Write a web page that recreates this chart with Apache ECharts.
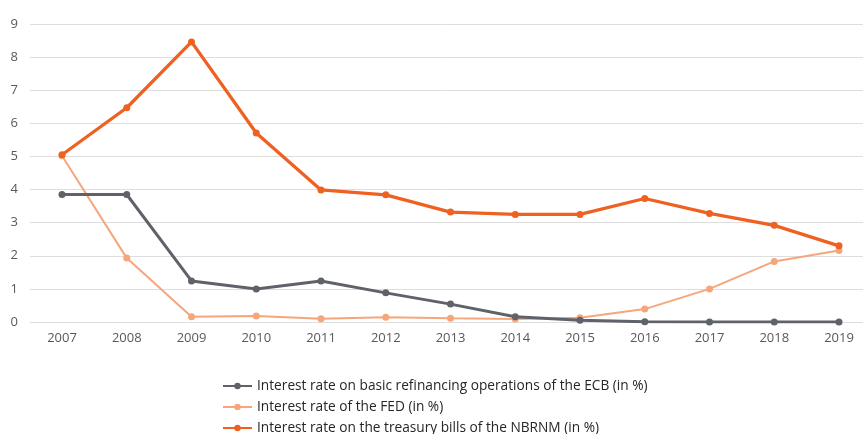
<!DOCTYPE html>
<html>
<head>
<meta charset="utf-8">
<script src="https://cdn.jsdelivr.net/npm/echarts@6/dist/echarts.min.js"></script>
<style>
  html, body { margin: 0; padding: 0; background: #fff; }
  #chart { width: 863px; height: 434px; }
</style>
</head>
<body>
<div id="chart"></div>
<script>
const years = ['2007','2008','2009','2010','2011','2012','2013','2014','2015','2016','2017','2018','2019'];
const ecbRate = [3.85, 3.85, 1.24, 1.00, 1.24, 0.88, 0.54, 0.16, 0.05, 0.01, 0.00, 0.00, 0.00];
const fedRate = [5.02, 1.93, 0.16, 0.18, 0.10, 0.14, 0.11, 0.09, 0.13, 0.39, 1.00, 1.83, 2.16];
const nbrnmRate = [5.05, 6.47, 8.46, 5.71, 3.99, 3.84, 3.32, 3.25, 3.25, 3.73, 3.28, 2.92, 2.30];
const seriesNames = [
  'Interest rate on basic refinancing operations of the ECB (in %)',
  'Interest rate of the FED (in %)',
  'Interest rate on the treasury bills of the NBRNM (in %)'
];

const font = '"Open Sans", "Noto Sans", sans-serif';
const chart = echarts.init(document.getElementById('chart'));

function lineSeries(name, data, color, width, z) {
  return {
    name: name,
    type: 'line',
    data: data,
    xAxisIndex: 0,
    yAxisIndex: 0,
    symbol: 'circle',
    symbolSize: 7,
    z: z,
    lineStyle: { color: color, width: width },
    itemStyle: { color: color },
    animation: false
  };
}

chart.setOption({
  backgroundColor: '#ffffff',
  textStyle: { fontFamily: font },
  grid: [
    // plotting area: first and last year sit on its edges
    { left: 62, right: 24, top: 24, bottom: 112, containLabel: false },
    // wider backdrop that carries the value labels and full-width gridlines
    { left: 30, right: 0, top: 24, bottom: 112, containLabel: false }
  ],
  xAxis: [
    {
      type: 'category',
      gridIndex: 0,
      data: years,
      boundaryGap: false,
      axisLine: { show: false },
      axisTick: { show: false },
      splitLine: { show: false },
      axisLabel: { color: '#595959', fontSize: 13, fontFamily: font, margin: 10 }
    },
    {
      type: 'value',
      gridIndex: 1,
      show: false
    }
  ],
  yAxis: [
    {
      type: 'value',
      gridIndex: 0,
      min: 0, max: 9, interval: 1,
      show: false
    },
    {
      type: 'value',
      gridIndex: 1,
      min: 0, max: 9, interval: 1,
      axisLine: { show: false },
      axisTick: { show: false },
      axisLabel: { color: '#595959', fontSize: 13, fontFamily: font, margin: 12 },
      splitLine: { lineStyle: { color: '#dedede', width: 1 } }
    }
  ],
  legend: {
    orient: 'vertical',
    left: 222,
    top: 378,
    height: 90,
    padding: 0,
    itemWidth: 29,
    itemHeight: 8,
    itemGap: 5,
    textStyle: { color: '#262626', fontSize: 13.7, lineHeight: 16, fontFamily: font },
    data: seriesNames
  },
  series: [
    lineSeries(seriesNames[0], ecbRate, '#5f6369', 3, 3),
    lineSeries(seriesNames[1], fedRate, '#f5a67c', 2, 2),
    lineSeries(seriesNames[2], nbrnmRate, '#ee6120', 3.3, 4)
  ]
});
</script>
</body>
</html>
